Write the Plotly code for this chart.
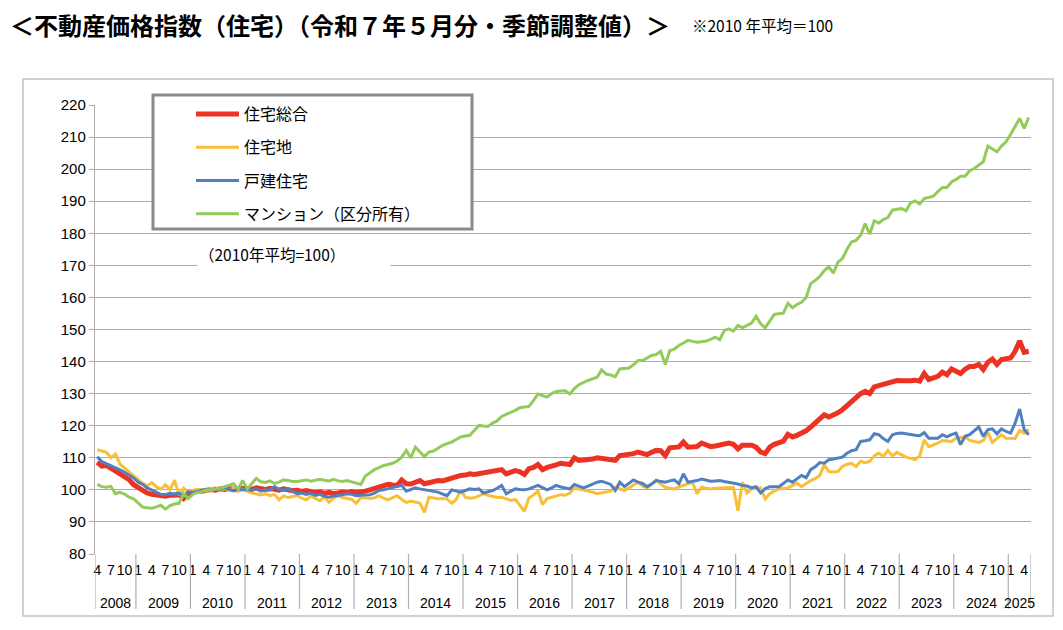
import plotly.graph_objects as go

# ---- categories: monthly, 2008-04 .. 2025-05 ----
start_year, start_month = 2008, 4
end_year, end_month = 2025, 5
periods = []
y, m = start_year, start_month
while (y, m) <= (end_year, end_month):
    periods.append((y, m))
    m += 1
    if m > 12:
        m = 1
        y += 1

label_months = [1, 4, 7, 10]
years = list(range(2008, 2026))

# ---- series values (2010 average = 100) ----
total = [  # 住宅総合
    108.6, 107.4, 107.6, 106.8, 106.0, 105.2, 104.4, 103.2, 101.6,
    100.6, 99.6, 99.0, 98.6, 98.3, 98.2, 98.0, 98.4, 98.3, 98.6, 97.3, 98.8,
    99.4, 99.8, 99.6, 100.0, 100.1, 99.9, 100.3, 100.1, 100.4, 100.2, 100.0, 100.5,
    100.4, 100.2, 100.6, 100.3, 100.1, 100.5, 100.2, 99.9, 100.3, 100.0, 99.7, 99.9,
    99.5, 99.8, 99.3, 99.1, 99.4, 98.9, 99.2, 98.8, 99.0, 99.3, 99.1, 99.5,
    99.2, 99.3, 99.6, 100.0, 100.4, 100.8, 101.2, 101.7, 101.5, 101.4, 103.1, 101.9,
    101.8, 102.4, 102.9, 101.9, 102.3, 102.7, 102.9, 102.8, 103.3, 103.6, 104.0, 104.5,
    104.6, 105.0, 104.8, 105.0, 105.2, 105.5, 105.9, 106.1, 106.3, 105.0, 105.6, 106.0,
    105.6, 104.8, 106.6, 107.0, 107.9, 106.3, 107.0, 107.6, 107.8, 108.3, 108.0, 107.9,
    110.0, 109.2, 109.3, 109.4, 109.6, 110.0, 109.8, 109.6, 109.7, 109.2, 110.7, 110.8,
    111.0, 111.3, 111.8, 111.4, 111.0, 111.7, 112.3, 112.2, 110.7, 113.1, 113.2, 113.4,
    114.9, 113.3, 113.4, 113.5, 114.6, 114.1, 113.5, 113.7, 113.9, 114.3, 114.6, 114.2,
    112.8, 113.9, 114.0, 113.9, 113.3, 111.8, 111.3, 113.3, 114.2, 114.9, 115.2, 117.3,
    116.5, 117.0, 117.5, 118.4, 119.6, 121.0, 122.1, 123.4, 122.7, 123.3, 124.0, 125.0,
    126.3, 127.6, 129.0, 130.0, 130.7, 130.0, 132.1, 132.5, 132.9, 133.3, 133.6, 134.1,
    134.0, 133.9, 134.0, 134.2, 133.9, 136.3, 134.4, 134.9, 135.4, 136.7, 135.9, 137.7,
    137.0, 136.3, 137.6, 138.5, 138.5, 139.1, 137.5, 139.8, 140.8, 139.1, 140.6, 140.9,
    141.1, 143.2, 146.4, 142.9, 143.2,
]

land = [  # 住宅地
    112.5, 112.1, 111.7, 110.0, 111.2, 108.0, 106.8, 105.6, 104.5,
    103.3, 102.0, 101.3, 102.2, 101.0, 100.2, 101.6, 100.0, 103.0, 98.4, 100.5, 99.4,
    99.8, 100.2, 100.0, 99.6, 100.4, 100.6, 99.8, 100.3, 100.0, 100.5, 99.7, 100.2,
    99.6, 99.0, 98.7, 98.4, 98.8, 98.2, 98.6, 96.9, 98.1, 97.6, 97.9, 98.3,
    97.4, 96.9, 98.0, 97.3, 96.6, 97.8, 96.1, 97.4, 98.2, 97.6, 97.2, 97.0,
    95.8, 97.6, 97.5, 97.3, 97.5, 98.2, 97.4, 96.9, 97.6, 98.2, 97.0, 96.1,
    96.5, 96.1, 95.9, 93.0, 97.7, 97.5, 97.2, 97.3, 97.2, 95.8, 97.0, 100.0,
    97.7, 97.4, 97.5, 98.1, 98.8, 98.3, 97.9, 97.6, 97.7, 97.2, 96.7, 97.0,
    95.2, 93.3, 97.5, 98.4, 99.6, 95.4, 97.3, 97.7, 98.0, 98.5, 98.3, 99.0,
    100.6, 100.2, 99.8, 99.6, 99.3, 98.8, 99.1, 99.3, 99.6, 100.8, 100.2, 99.8,
    100.6, 101.5, 102.4, 101.2, 100.6, 101.8, 103.1, 101.8, 100.8, 100.5, 100.3, 100.9,
    101.4, 101.9, 102.4, 98.8, 100.8, 100.5, 100.3, 100.5, 100.6, 100.7, 100.9, 100.8,
    93.5, 102.4, 99.0, 100.3, 100.5, 100.6, 97.2, 98.8, 99.6, 100.3, 100.5, 100.6,
    101.4, 102.1, 101.0, 102.0, 102.9, 103.5, 104.5, 107.8, 105.7, 105.6, 105.7, 107.3,
    108.0, 108.3, 107.3, 108.9, 108.5, 108.9, 110.6, 111.5, 110.4, 112.3, 110.6, 111.7,
    110.9, 110.2, 109.8, 109.4, 110.6, 115.6, 113.5, 114.0, 114.6, 115.4, 115.2, 115.1,
    116.1, 116.3, 116.5, 115.4, 115.0, 114.8, 115.4, 117.9, 114.8, 116.0, 117.2, 116.1,
    116.1, 116.0, 118.5, 117.7, 118.8,
]

house = [  # 戸建住宅
    110.3, 108.8, 108.2, 107.6, 106.9, 106.2, 105.5, 104.6, 103.7,
    102.4, 101.7, 100.6, 100.0, 99.3, 98.6, 98.5, 98.9, 98.7, 99.0, 97.8, 99.4,
    99.2, 99.6, 99.9, 100.2, 99.8, 100.4, 100.1, 100.6, 100.2, 99.7, 100.3, 100.0,
    100.1, 99.8, 100.3, 99.6, 100.0, 99.9, 101.0, 100.2, 99.8, 100.4, 99.5, 98.8,
    99.0, 98.6, 98.9, 98.3, 98.6, 98.0, 97.7, 98.1, 98.2, 98.5, 98.8, 98.6,
    98.2, 98.3, 98.4, 98.5, 99.0, 99.8, 100.0, 100.3, 100.6, 100.9, 101.4, 99.6,
    100.2, 100.6, 100.3, 100.0, 99.8, 99.5, 99.3, 98.7, 98.2, 100.0, 99.6, 99.3,
    99.8, 100.3, 100.1, 100.3, 99.0, 99.4, 99.8, 100.5, 101.4, 98.8, 99.6, 100.3,
    100.1, 100.0, 100.3, 100.8, 101.4, 100.7, 100.0, 100.6, 101.4, 100.9, 100.6, 100.3,
    101.7, 101.2, 100.6, 101.2, 101.9, 102.4, 102.7, 102.2, 101.7, 99.8, 102.4, 101.0,
    102.2, 103.1, 102.4, 102.0, 101.0, 101.8, 102.9, 102.6, 102.4, 102.8, 103.1, 101.9,
    105.0, 102.4, 102.6, 102.9, 103.4, 103.0, 102.7, 102.8, 102.9, 102.6, 102.4, 102.1,
    101.8, 101.4, 101.2, 100.6, 101.0, 99.0, 100.4, 101.0, 101.0, 101.0, 102.0, 103.1,
    102.4, 103.6, 104.5, 103.8, 106.3, 107.2, 108.5, 108.3, 109.4, 109.6, 109.9, 110.2,
    111.4, 112.2, 112.5, 115.1, 115.3, 115.6, 117.5, 117.2, 116.0, 115.1, 117.2, 117.6,
    117.7, 117.4, 117.2, 117.0, 116.9, 117.9, 116.1, 116.2, 116.1, 117.2, 116.5, 117.2,
    117.7, 114.1, 116.7, 117.2, 118.5, 119.6, 116.7, 118.8, 119.0, 117.5, 119.0, 118.2,
    117.7, 120.8, 125.2, 118.8, 117.2,
]

condo = [  # マンション（区分所有）
    101.7, 101.0, 100.8, 101.1, 98.8, 99.2, 98.7, 97.7, 97.2,
    95.8, 94.6, 94.4, 94.3, 94.7, 95.2, 94.0, 95.1, 95.6, 95.8, 98.9, 97.3,
    98.6, 99.2, 99.4, 100.0, 99.8, 100.3, 100.5, 100.9, 101.3, 101.9, 100.2, 102.9,
    100.3, 102.0, 103.6, 102.5, 102.3, 102.8, 102.0, 102.4, 103.1, 102.9, 102.6, 102.6,
    102.8, 103.1, 102.7, 103.0, 103.3, 103.0, 102.8, 103.3, 102.8, 102.6, 102.9, 102.5,
    102.2, 101.7, 104.3, 105.4, 106.3, 106.9, 107.6, 107.9, 108.3, 109.0, 110.2, 112.3,
    110.0, 113.3, 111.9, 110.4, 111.8, 112.1, 113.0, 113.9, 114.4, 114.9, 115.7, 116.5,
    116.8, 117.0, 118.6, 120.1, 119.9, 119.8, 120.8, 121.5, 122.9, 123.5, 124.0, 124.8,
    125.6, 125.9, 126.0, 127.8, 129.9, 129.4, 128.9, 130.0, 130.7, 130.8, 130.9, 129.9,
    131.6, 132.8, 133.5, 134.1, 134.6, 135.1, 137.4, 136.1, 135.8, 135.3, 137.7, 137.8,
    138.0, 139.0, 140.3, 140.3, 141.0, 141.9, 142.2, 143.2, 139.1, 143.4, 143.9, 145.0,
    145.8, 146.6, 146.3, 146.0, 146.2, 146.4, 146.9, 147.6, 146.8, 149.7, 150.2, 149.5,
    151.3, 150.5, 151.3, 152.0, 154.1, 151.8, 150.5, 152.8, 154.7, 154.9, 155.1, 158.2,
    156.8, 157.8, 158.5, 159.9, 164.3, 165.3, 166.5, 168.4, 169.5, 167.6, 171.0, 172.1,
    175.0, 177.3, 177.8, 179.4, 183.0, 179.7, 183.9, 183.2, 184.3, 184.9, 187.2, 187.5,
    187.7, 187.0, 189.5, 190.1, 189.1, 190.8, 191.2, 191.6, 193.0, 194.3, 194.3, 196.0,
    196.8, 197.8, 197.8, 199.5, 200.2, 201.3, 202.3, 207.2, 206.2, 205.4, 207.2, 208.5,
    210.8, 213.2, 215.8, 212.7, 216.1,
]

series = [
    ("住宅総合", total, "#EC3323", 5),
    ("住宅地", land, "#F8BF38", 3),
    ("戸建住宅", house, "#5180C1", 3),
    ("マンション（区分所有）", condo, "#92CB5A", 3),
]

title_text = "＜不動産価格指数（住宅）（令和７年５月分・季節調整値）＞"
note_text = "※2010 年平均＝100"
base_text = "（2010年平均=100）"

# ---- figure geometry (pixels, page coordinates; page body has an 8px margin) ----
OFF = 8
W, H = 1063 - OFF, 630 - OFF
L, R, T, B = 95 - OFF, 32, 105 - OFF, 76
PW, PH = W - L - R, H - T - B
def px(xr):
    return (xr - OFF - L) / PW
def py(yr):
    return (H - B - (yr - OFF)) / PH

JP = "Noto Sans CJK JP"
NUM = "Liberation Sans, Noto Sans CJK JP"

x_idx = list(range(len(periods)))
fig = go.Figure()
for name, vals, color, width in series:
    fig.add_trace(go.Scatter(
        x=x_idx, y=vals, mode="lines", name=name, legendgroup=name,
        line=dict(color=color, width=width),
    ))

tickvals = [i for i, (yy, mm) in enumerate(periods) if mm in label_months]
ticktext = [str(periods[i][1]) for i in tickvals]

shapes = []
annotations = []
# outer chart border
shapes.append(dict(type="rect", xref="paper", yref="paper",
                   x0=px(23), x1=px(1053), y0=py(616), y1=py(79),
                   line=dict(color="#c4c4c4", width=1.5), layer="below"))
# year separators and year labels
bounds = [-0.5]
for yr in years:
    idxs = [i for i, (yy, mm) in enumerate(periods) if yy == yr]
    bounds.append(idxs[-1] + 0.5)
    annotations.append(dict(x=(idxs[0] + idxs[-1]) / 2, y=py(603), xref="x", yref="paper",
                            text=str(yr), showarrow=False, xanchor="center", yanchor="middle",
                            font=dict(family=NUM, size=14, color="#000000")))
for b in bounds:
    shapes.append(dict(type="line", xref="x", yref="paper", x0=b, x1=b,
                       y0=0, y1=py(609), line=dict(color="#b0b0b0", width=1.2)))
# legend frame
shapes.append(dict(type="rect", xref="paper", yref="paper",
                   x0=px(153), x1=px(472), y0=py(229), y1=py(95),
                   fillcolor="#ffffff", line=dict(color="#8a8a8a", width=3), layer="above"))

annotations.append(dict(x=px(197), y=py(253.5), xref="paper", yref="paper",
                        text=base_text, showarrow=False, xanchor="left", yanchor="middle",
                        align="left", width=190, height=25, bgcolor="#ffffff",
                        font=dict(family=JP, size=15.5, color="#000000")))
annotations.append(dict(x=px(690), y=py(25), xref="paper", yref="paper",
                        text=note_text, showarrow=False, xanchor="left", yanchor="middle",
                        font=dict(family=JP, size=15.5, color="#000000")))

fig.update_layout(
    width=W, height=H,
    margin=dict(l=L, r=R, t=T, b=B, pad=0),
    paper_bgcolor="#ffffff", plot_bgcolor="#ffffff",
    title=dict(text=title_text, x=(10 - OFF) / W, xanchor="left", xref="container",
               y=1 - (27 - OFF) / H, yanchor="middle", yref="container",
               font=dict(family=JP, size=24, color="#000000", weight="bold")),
    showlegend=True,
    legend=dict(x=px(191), y=py(97), xanchor="left", yanchor="top",
                bgcolor="rgba(0,0,0,0)", borderwidth=0,
                font=dict(family=JP, size=16, color="#000000"),
                tracegroupgap=9.5, itemwidth=43, traceorder="grouped"),
    xaxis=dict(range=[-0.5, len(periods) - 0.5], tickmode="array",
               tickvals=tickvals, ticktext=ticktext, tickangle=0,
               showgrid=False, zeroline=False, showline=False, ticks="",
               ticklabelstandoff=6,
               tickfont=dict(family=NUM, size=14, color="#000000")),
    yaxis=dict(range=[80, 220], dtick=10, tick0=80, showgrid=True,
               gridcolor="#ababab", gridwidth=1.4, zeroline=False,
               showline=True, linecolor="#ababab", linewidth=1.4,
               ticks="outside", ticklen=5, tickcolor="#ababab", tickwidth=1.4,
               tickfont=dict(family=NUM, size=15, color="#000000")),
    shapes=shapes,
    annotations=annotations,
)

fig.write_html("out.html")
